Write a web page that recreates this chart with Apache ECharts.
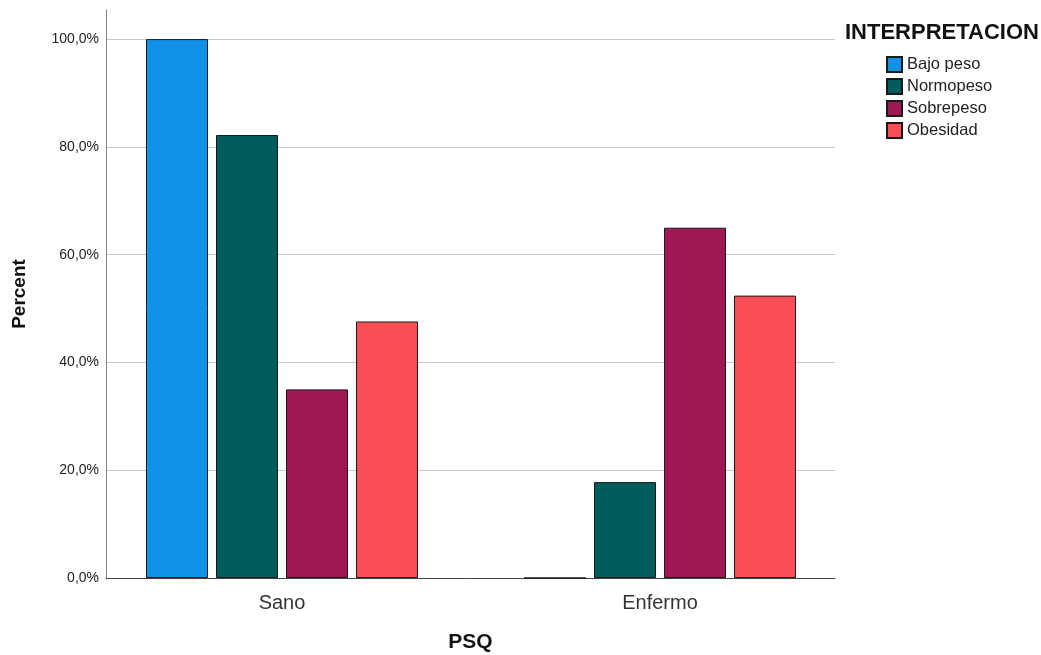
<!DOCTYPE html>
<html><head><meta charset="utf-8">
<script src="https://cdn.jsdelivr.net/npm/echarts@6/dist/echarts.min.js"></script>
<style>html,body{margin:0;padding:0;background:#fff}#c{width:1041px;height:655px}</style>
</head><body><div id="c"></div>
<script>
const categories = ['Sano', 'Enfermo'];
const seriesNames = ['Bajo peso', 'Normopeso', 'Sobrepeso', 'Obesidad'];
const bajoPeso = [100.0, 0.0];
const normopeso = [82.2, 17.8];
const sobrepeso = [35.0, 65.0];
const obesidad = [47.6, 52.4];
const colors = ['#1192e8', '#005d5d', '#9f1853', '#fa4d56'];
const yTicks = [0, 20, 40, 60, 80, 100];

const values = [bajoPeso, normopeso, sobrepeso, obesidad];
const font = 'Liberation Sans, Arial, sans-serif';
const yMax = 105.4;
const chart = echarts.init(document.getElementById('c'), null, {renderer: 'canvas'});
chart.setOption({
  animation: false,
  color: colors,
  title: {text: 'INTERPRETACION', left: 845, top: 22, padding: 0,
    textStyle: {fontFamily: font, fontSize: 22, fontWeight: 'bold', color: '#111'}},
  legend: {orient: 'vertical', left: 886, top: 56, padding: 0, itemWidth: 15, itemHeight: 15, itemGap: 5,
    icon: 'rect',
    textStyle: {fontFamily: font, fontSize: 16.5, lineHeight: 15, color: '#222', padding: [0, 0, 0, 0]},
    data: seriesNames},
  grid: [
    {left: 106, right: 206, top: 10, bottom: 77, outerBoundsMode: 'none', containLabel: false},
    {left: 93, right: 192, top: 10, bottom: 77, outerBoundsMode: 'none', containLabel: false}
  ],
  xAxis: [
    {gridIndex: 0, type: 'category', data: categories,
      axisLine: {lineStyle: {color: '#444', width: 1}}, axisTick: {show: false}, axisLabel: {show: false},
      name: 'PSQ', nameLocation: 'middle', nameGap: 54,
      nameTextStyle: {fontFamily: font, fontSize: 21, fontWeight: 'bold', color: '#111'}},
    {gridIndex: 1, type: 'category', data: categories,
      axisLine: {show: false}, axisTick: {show: false},
      axisLabel: {fontFamily: font, fontSize: 20, color: '#333', margin: 15}}
  ],
  yAxis: [
    {gridIndex: 0, type: 'value', min: 0, max: yMax, interval: 20,
      axisLine: {show: true, lineStyle: {color: '#888'}}, axisTick: {show: false},
      splitLine: {lineStyle: {color: ['#c8c8c8', '#c8c8c8', '#c8c8c8', '#c8c8c8', '#c8c8c8', '#c8c8c8', 'rgba(0,0,0,0)'], width: 1}},
      axisLabel: {fontFamily: font, fontSize: 14, color: '#222', margin: 7,
        formatter: v => yTicks.includes(v) ? v.toFixed(1).replace('.', ',') + '%' : ''},
      name: 'Percent', nameLocation: 'middle', nameGap: 77,
      nameTextStyle: {fontFamily: font, fontSize: 19, fontWeight: 'bold', color: '#111'}},
    {gridIndex: 1, type: 'value', min: 0, max: yMax, show: false}
  ],
  series: values.map((v, i) => ({
    name: seriesNames[i], type: 'bar', xAxisIndex: 1, yAxisIndex: 1,
    data: v, barWidth: 62, barGap: '12.9%',
    itemStyle: {color: colors[i], borderColor: '#1a1a1a', borderWidth: 1}
  }))
});
</script></body></html>
